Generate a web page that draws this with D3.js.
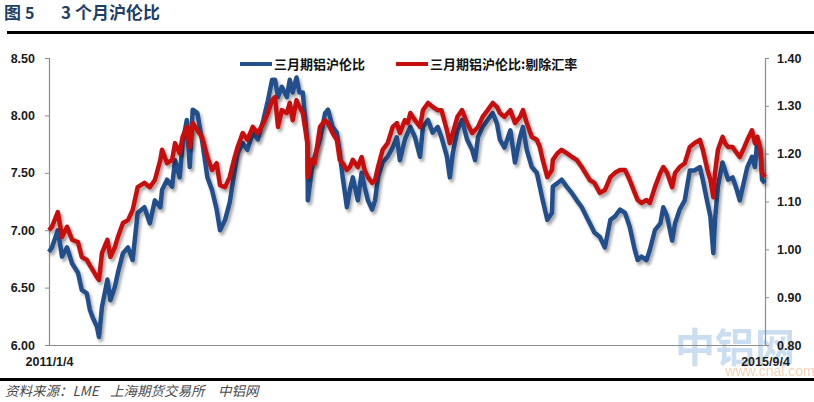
<!DOCTYPE html>
<html><head><meta charset="utf-8">
<script src="https://cdn.jsdelivr.net/npm/d3@7"></script>
<style>
body{margin:0;background:#fff;}
svg{display:block;}
</style></head>
<body><svg id="c" width="814" height="402"></svg>
<script>
const dates = ["2011-01-04","2011-01-11","2011-01-25","2011-02-04","2011-02-16","2011-02-28","2011-03-14","2011-03-23","2011-04-04","2011-04-11",
"2011-04-18","2011-04-28","2011-05-03","2011-05-10","2011-05-23","2011-05-30","2011-06-10","2011-06-17","2011-06-29","2011-07-11",
"2011-07-22","2011-08-03","2011-08-19","2011-09-01","2011-09-13","2011-09-26","2011-09-30","2011-10-12","2011-10-24","2011-10-31",
"2011-11-11","2011-11-18","2011-11-28","2011-12-05","2011-12-12","2011-12-23","2012-01-03","2012-01-16","2012-01-27","2012-02-07",
"2012-02-15","2012-02-27","2012-03-09","2012-03-21","2012-03-28","2012-04-09","2012-04-20","2012-05-03","2012-05-15","2012-05-28",
"2012-06-08","2012-06-18","2012-06-25","2012-07-02","2012-07-11","2012-07-23","2012-07-30","2012-08-06","2012-08-15","2012-08-22",
"2012-08-30","2012-09-10","2012-09-11","2012-09-20","2012-09-27","2012-10-10","2012-10-22","2012-10-29","2012-11-09","2012-11-19",
"2012-11-26","2012-12-03","2012-12-13","2012-12-20","2012-12-27","2013-01-08","2013-01-17","2013-01-24","2013-02-01","2013-02-11",
"2013-02-18","2013-02-25","2013-03-08","2013-03-20","2013-04-01","2013-04-11","2013-04-18","2013-04-30","2013-05-07","2013-05-13",
"2013-05-24","2013-06-05","2013-06-12","2013-06-24","2013-07-05","2013-07-17","2013-07-26","2013-08-08","2013-08-15","2013-08-22",
"2013-09-02","2013-09-13","2013-09-25","2013-10-07","2013-10-14","2013-10-21","2013-11-01","2013-11-13","2013-11-25","2013-12-05",
"2013-12-12","2013-12-23","2014-01-06","2014-01-17","2014-01-29","2014-02-05","2014-02-14","2014-02-26","2014-03-10","2014-03-17",
"2014-03-24","2014-04-04","2014-04-15","2014-04-17","2014-04-28","2014-05-08","2014-05-20","2014-06-02","2014-06-13","2014-06-25",
"2014-07-07","2014-07-14","2014-07-25","2014-08-07","2014-08-19","2014-09-01","2014-09-12","2014-09-24","2014-10-06","2014-10-17",
"2014-10-29","2014-11-05","2014-11-14","2014-11-26","2014-12-04","2014-12-16","2014-12-29","2015-01-05","2015-01-14","2015-01-26",
"2015-02-02","2015-02-13","2015-02-25","2015-03-09","2015-03-20","2015-04-02","2015-04-09","2015-04-20","2015-04-27","2015-05-04",
"2015-05-08","2015-05-15","2015-05-26","2015-06-01","2015-06-08","2015-06-19","2015-06-29","2015-07-06","2015-07-17","2015-07-24",
"2015-08-04","2015-08-11","2015-08-17","2015-08-24","2015-08-28","2015-09-04"];

const ratio = [6.81,6.85,7.00,6.77,6.85,6.71,6.63,6.48,6.45,6.31,
6.24,6.16,6.07,6.33,6.57,6.39,6.51,6.63,6.80,6.85,
6.74,7.15,7.20,7.06,7.26,7.20,7.35,7.44,7.38,7.61,
7.46,7.76,7.96,7.55,8.05,8.02,7.79,7.46,7.35,7.18,
7.00,7.09,7.24,7.52,7.67,7.76,7.70,7.85,7.79,7.96,
8.13,8.31,8.31,8.16,8.25,8.16,8.31,8.20,8.33,8.20,
8.20,7.76,7.26,7.52,7.64,7.79,8.02,8.05,7.90,7.85,
7.67,7.46,7.20,7.35,7.46,7.26,7.50,7.38,7.26,7.18,
7.26,7.46,7.59,7.64,7.72,7.81,7.61,7.79,7.85,7.90,
7.81,7.64,7.90,7.96,7.85,7.90,7.81,7.64,7.46,7.67,
7.87,7.96,7.79,7.70,7.61,7.81,7.90,7.96,8.02,7.93,
7.79,7.72,7.87,7.59,7.81,7.90,7.70,7.55,7.50,7.38,
7.26,7.09,7.15,7.38,7.41,7.44,7.38,7.32,7.26,7.20,
7.11,7.06,6.98,6.94,6.85,7.09,7.12,7.18,7.15,7.03,
6.83,6.74,6.77,6.74,6.83,7.00,7.06,7.20,7.12,6.91,
7.06,7.18,7.26,7.52,7.52,7.55,7.44,7.24,7.12,6.80,
7.09,7.38,7.59,7.52,7.44,7.46,7.35,7.26,7.44,7.55,
7.64,7.55,7.79,7.70,7.44,7.41];

const ratioExFx = [1.040,1.047,1.078,1.026,1.047,1.020,1.015,0.984,0.978,0.967,
0.957,0.942,0.936,0.992,1.020,0.984,1.005,1.026,1.055,1.061,
1.082,1.130,1.139,1.130,1.145,1.187,1.208,1.180,1.187,1.222,
1.201,1.235,1.256,1.214,1.264,1.249,1.235,1.193,1.166,1.180,
1.134,1.130,1.151,1.193,1.214,1.243,1.229,1.256,1.243,1.264,
1.285,1.312,1.318,1.256,1.291,1.285,1.306,1.270,1.312,1.298,
1.285,1.222,1.151,1.187,1.180,1.256,1.270,1.264,1.243,1.229,
1.187,1.180,1.166,1.172,1.187,1.172,1.193,1.166,1.151,1.139,
1.145,1.172,1.208,1.222,1.256,1.264,1.243,1.270,1.264,1.285,
1.270,1.256,1.291,1.306,1.298,1.291,1.291,1.249,1.222,1.243,
1.277,1.291,1.264,1.243,1.249,1.256,1.277,1.291,1.306,1.298,
1.285,1.277,1.291,1.264,1.277,1.291,1.264,1.235,1.229,1.214,
1.187,1.151,1.166,1.187,1.201,1.208,1.201,1.193,1.187,1.172,
1.155,1.145,1.139,1.118,1.124,1.151,1.160,1.166,1.166,1.145,
1.118,1.103,1.097,1.103,1.097,1.130,1.160,1.172,1.160,1.130,
1.160,1.172,1.180,1.214,1.222,1.229,1.208,1.166,1.145,1.109,
1.160,1.208,1.235,1.222,1.214,1.214,1.201,1.193,1.214,1.229,
1.249,1.222,1.235,1.208,1.160,1.151];

const leftTicks = [6.00,6.50,7.00,7.50,8.00,8.50];
const rightTicks = [0.80,0.90,1.00,1.10,1.20,1.30,1.40];
const xTickDates = ["2011-01-04","2015-09-04"];
const xTickLabels = ["2011/1/4","2015/9/4"];
const seriesNames = ["三月期铝沪伦比","三月期铝沪伦比:剔除汇率"];
const seriesColors = ["#24508c","#c80c0c"];
const sourceParts = ["资料来源：LME","上海期货交易所","中铝网"];

const parse = d3.timeParse("%Y-%m-%d");
const svg = d3.select("#c");
const L=49, R=765, T=58, B=345;

const defs = svg.append("defs");
const f = defs.append("filter").attr("id","sh").attr("x","-5%").attr("y","-5%").attr("width","110%").attr("height","120%");
f.append("feDropShadow").attr("dx",2).attr("dy",3).attr("stdDeviation",1.6).attr("flood-color","#000").attr("flood-opacity",0.35);

// title
const cjk = "'Noto Sans CJK SC','Noto Sans',sans-serif";
svg.append("text").attr("x",4).attr("y",19).attr("font-family",cjk).attr("font-weight","bold").attr("font-size",17).attr("fill","#1f3f66").text("图");
svg.append("text").attr("x",25).attr("y",19).attr("font-family",cjk).attr("font-weight","bold").attr("font-size",16).attr("fill","#1f3f66").text("5");
svg.append("text").attr("x",61).attr("y",19).attr("font-family",cjk).attr("font-weight","bold").attr("font-size",17).attr("fill","#1f3f66").text("3 个月沪伦比");
svg.append("rect").attr("x",7).attr("y",31).attr("width",807).attr("height",3).attr("fill","#000");
svg.append("rect").attr("x",0).attr("y",378).attr("width",814).attr("height",3).attr("fill","#000");
const srcX = [5,110,218];
sourceParts.forEach((s,i)=>{
  svg.append("text").attr("x",srcX[i]).attr("y",396).attr("font-family",cjk).attr("font-style","italic").attr("font-size",13.5).attr("fill","#4a4a4a").text(s);
});

const x = d3.scaleTime().domain([parse(dates[0]), parse(dates[dates.length-1])]).range([L,R]);
const yL = d3.scaleLinear().domain([6,8.5]).range([B,T]);
const yR = d3.scaleLinear().domain([0.8,1.4]).range([B,T]);

// watermark
svg.append("text").attr("x",735).attr("y",362).attr("text-anchor","middle").attr("font-family",cjk).attr("font-weight","bold").attr("font-size",40).attr("fill","#9fc3e6").attr("opacity",0.55).text("中铝网");
svg.append("text").attr("x",770).attr("y",376).attr("text-anchor","middle").attr("font-family","'Liberation Sans Narrow','Liberation Sans',sans-serif").attr("font-size",14).attr("fill","#f3c9a6").attr("opacity",0.85).text("www.cnal.com");

const numFont = "'Liberation Sans',Arial,sans-serif";
const ax = svg.append("g").attr("transform",`translate(${L},0)`).call(d3.axisLeft(yL).tickValues(leftTicks).tickFormat(d3.format(".2f")).tickSize(4).tickPadding(10));
const axR = svg.append("g").attr("transform",`translate(${R},0)`).call(d3.axisRight(yR).tickValues(rightTicks).tickFormat(d3.format(".2f")).tickSize(4).tickPadding(8));
const axB = svg.append("g").attr("transform",`translate(0,${B})`).call(d3.axisBottom(x).tickValues(xTickDates.map(parse)).tickFormat((d,i)=>xTickLabels[i]).tickSize(0).tickPadding(12));
[ax,axR,axB].forEach(g=>{
  g.select(".domain").attr("stroke","#8c8c8c").attr("stroke-width",1.2);
  g.selectAll(".tick line").attr("stroke","#8c8c8c");
  g.selectAll("text").attr("font-family",numFont).attr("font-weight","bold").attr("font-size",12.5).attr("fill","#1a1a1a");
});

const data = dates.map((d,i)=>({d:parse(d), a:ratio[i], b:ratioExFx[i]}));
const la = d3.line().x(d=>x(d.d)).y(d=>yL(d.a));
const lb = d3.line().x(d=>x(d.d)).y(d=>yR(d.b));
svg.append("path").datum(data).attr("d",la).attr("fill","none").attr("stroke",seriesColors[0]).attr("stroke-width",4.5).attr("stroke-linejoin","round").attr("filter","url(#sh)");
svg.append("path").datum(data).attr("d",lb).attr("fill","none").attr("stroke",seriesColors[1]).attr("stroke-width",4.5).attr("stroke-linejoin","round").attr("filter","url(#sh)");

// legend
const lg = svg.append("g");
const legX = [240,396];
seriesNames.forEach((n,i)=>{
  lg.append("line").attr("x1",legX[i]).attr("x2",legX[i]+32).attr("y1",64).attr("y2",64).attr("stroke",seriesColors[i]).attr("stroke-width",4);
  lg.append("text").attr("x",legX[i]+34).attr("y",69).attr("font-family",cjk).attr("font-weight","bold").attr("font-size",13).attr("fill","#111").text(n);
});
</script></body></html>
